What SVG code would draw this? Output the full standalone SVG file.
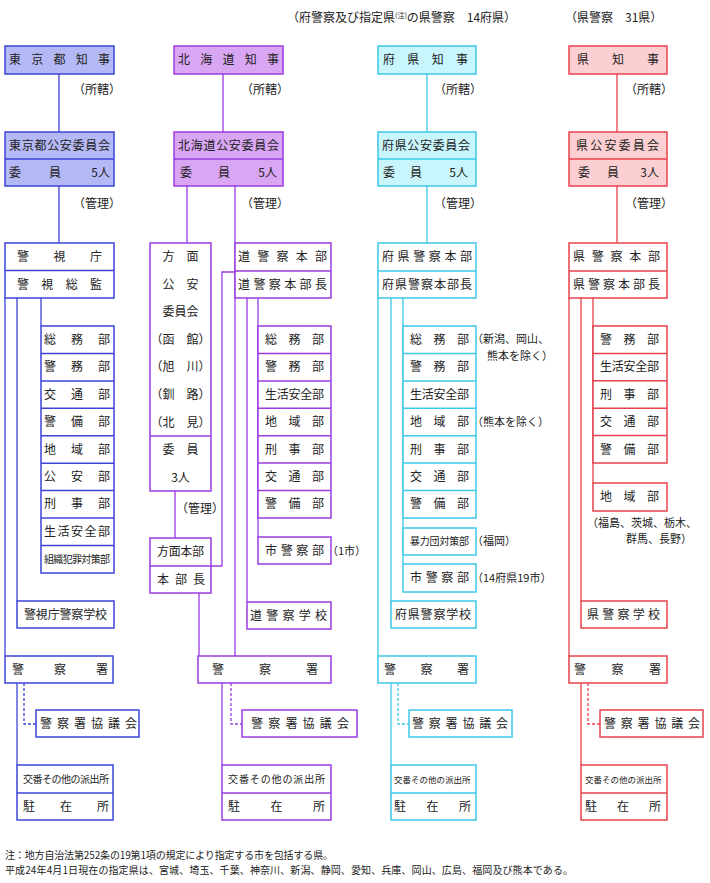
<svg xmlns="http://www.w3.org/2000/svg" width="710" height="883" viewBox="0 0 710 883">
<style>
text{font-family:"Noto Sans CJK JP","Noto Sans CJK SC",sans-serif;font-size:12px;fill:#222}
.s{font-size:10px}
.t{font-size:8.5px}
.a{font-size:11px}
.m{text-anchor:middle}
.e{text-anchor:end}
rect,.dv{stroke-width:1.5}
.k1{stroke:#3d45d8}.k2{stroke:#9a3be0}.k3{stroke:#3cc8e8}.k4{stroke:#e8404c}
.w{fill:#fff}
.f1{fill:#b4b8f4}.f2{fill:#d9a6f4}.f3{fill:#c8f6fc}.f4{fill:#fcd0d2}
.ln{fill:none;stroke-width:1.3}
.d{stroke-dasharray:3 2}
</style>
<rect width="710" height="883" fill="#fff"/>

<g id="titles">
<text x="287" y="22">（府警察及び指定県<tspan font-size="7" dy="-4">(注)</tspan><tspan dy="4">の県警察　14府県）</tspan></text>
<text x="565" y="22">（県警察　31県）</text>
</g>

<g id="connectors">
<g class="ln k1">
<line x1="59" y1="74" x2="59" y2="132"/>
<line x1="59" y1="186" x2="59" y2="243"/>
<line x1="5" y1="298" x2="5" y2="656"/>
<line x1="17" y1="298" x2="17" y2="601"/>
<line x1="41" y1="298" x2="41" y2="326"/>
<line x1="17" y1="683" x2="17" y2="765"/>
<polyline class="d" points="24,683 24,724 36,724"/>
</g>
<g class="ln k2">
<line x1="223" y1="74" x2="223" y2="132"/>
<line x1="187" y1="186" x2="187" y2="243"/>
<line x1="235" y1="186" x2="235" y2="656"/>
<line x1="175" y1="491" x2="175" y2="538"/>
<polyline points="211,566 222,566 222,272 235,272"/>
<line x1="199" y1="593" x2="199" y2="656"/>
<line x1="247" y1="298" x2="247" y2="602"/>
<line x1="258" y1="298" x2="258" y2="537"/>
<line x1="222" y1="683" x2="222" y2="765"/>
<polyline class="d" points="231,683 231,724 242,724"/>
</g>
<g class="ln k3">
<line x1="427" y1="74" x2="427" y2="132"/>
<line x1="427" y1="186" x2="427" y2="243"/>
<line x1="378" y1="298" x2="378" y2="656"/>
<line x1="391" y1="298" x2="391" y2="601"/>
<line x1="403" y1="298" x2="403" y2="564"/>
<line x1="391" y1="683" x2="391" y2="765"/>
<polyline class="d" points="398,683 398,724 409,724"/>
</g>
<g class="ln k4">
<line x1="617" y1="74" x2="617" y2="132"/>
<line x1="617" y1="186" x2="617" y2="243"/>
<line x1="569" y1="298" x2="569" y2="656"/>
<line x1="581" y1="298" x2="581" y2="601"/>
<line x1="593" y1="298" x2="593" y2="483"/>
<line x1="581" y1="683" x2="581" y2="765"/>
<polyline class="d" points="588,683 588,724 600,724"/>
</g>
<g id="connector-labels">
<text x="73" y="94">（所轄）</text><text x="73" y="208">（管理）</text>
<text x="241" y="94">（所轄）</text><text x="241" y="208">（管理）</text>
<text x="434" y="94">（所轄）</text><text x="434" y="208">（管理）</text>
<text x="625" y="94">（所轄）</text><text x="625" y="208">（管理）</text>
<text x="176" y="513">（管理）</text>
</g>
</g>

<g id="tokyo-governor">
<rect class="f1 k1" x="5" y="46" width="109" height="28"/>
<text x="9" y="64" textLength="101">東京都知事</text>
</g>
<g id="tokyo-psc">
<rect class="f1 k1" x="5" y="132" width="109" height="54"/>
<line class="dv k1" x1="5" y1="159" x2="114" y2="159"/>
<text x="9" y="150" textLength="101">東京都公安委員会</text>
<text x="9" y="177">委</text><text x="49" y="177">員</text><text class="e" x="110" y="177">5人</text>
</g>
<g id="mpd">
<rect class="w k1" x="5" y="243" width="109" height="55"/>
<line class="dv k1" x1="5" y1="270.5" x2="114" y2="270.5"/>
<text x="17" y="261" textLength="85">警視庁</text>
<text x="17" y="289" textLength="85">警視総監</text>
</g>
<g id="mpd-departments">
<rect class="w k1" x="41" y="326" width="73" height="247"/>
<g class="dv k1">
<line x1="41" y1="353.4" x2="114" y2="353.4"/><line x1="41" y1="380.9" x2="114" y2="380.9"/>
<line x1="41" y1="408.3" x2="114" y2="408.3"/><line x1="41" y1="435.8" x2="114" y2="435.8"/>
<line x1="41" y1="463.2" x2="114" y2="463.2"/><line x1="41" y1="490.6" x2="114" y2="490.6"/>
<line x1="41" y1="518.1" x2="114" y2="518.1"/><line x1="41" y1="545.5" x2="114" y2="545.5"/>
</g>
<text x="44" y="344" textLength="66">総務部</text>
<text x="44" y="371" textLength="66">警務部</text>
<text x="44" y="399" textLength="66">交通部</text>
<text x="44" y="426" textLength="66">警備部</text>
<text x="44" y="454" textLength="66">地域部</text>
<text x="44" y="481" textLength="66">公安部</text>
<text x="44" y="508" textLength="66">刑事部</text>
<text x="44" y="536" textLength="66">生活安全部</text>
<text class="s" x="44" y="563" textLength="66">組織犯罪対策部</text>
</g>
<g id="mpd-academy">
<rect class="w k1" x="17" y="601" width="97" height="27"/>
<text x="24" y="619" textLength="83">警視庁警察学校</text>
</g>
<g id="tokyo-station">
<rect class="w k1" x="5" y="656" width="108" height="27"/>
<text x="12" y="674" textLength="96">警察署</text>
</g>
<g id="tokyo-council">
<rect class="w k1" x="36" y="710" width="103" height="27"/>
<text x="40" y="728" textLength="97">警察署協議会</text>
</g>
<g id="tokyo-koban">
<rect class="w k1" x="17" y="765" width="96" height="55"/>
<line class="dv k1" x1="17" y1="793" x2="113" y2="793"/>
<text class="s" x="23" y="783" textLength="86">交番その他の派出所</text>
<text x="23" y="811" textLength="86">駐在所</text>
</g>

<g id="hokkaido-governor">
<rect class="f2 k2" x="174" y="46" width="109" height="28"/>
<text x="178" y="64" textLength="101">北海道知事</text>
</g>
<g id="hokkaido-psc">
<rect class="f2 k2" x="174" y="132" width="109" height="54"/>
<line class="dv k2" x1="174" y1="159" x2="283" y2="159"/>
<text x="178" y="150" textLength="101">北海道公安委員会</text>
<text x="180" y="177">委</text><text x="218" y="177">員</text><text class="e" x="277" y="177">5人</text>
</g>
<g id="area-psc">
<rect class="w k2" x="150" y="243" width="61" height="248"/>
<line class="dv k2" x1="150" y1="436" x2="211" y2="436"/>
<text class="m" x="180.5" y="261">方　面</text>
<text class="m" x="180.5" y="289">公　安</text>
<text class="m" x="180.5" y="316">委員会</text>
<text class="m" x="180.5" y="344">（函　館）</text>
<text class="m" x="180.5" y="371">（旭　川）</text>
<text class="m" x="180.5" y="399">（釧　路）</text>
<text class="m" x="180.5" y="427">（北　見）</text>
<text class="m" x="180.5" y="454">委　員</text>
<text class="m" x="180.5" y="482">3人</text>
</g>
<g id="area-hq">
<rect class="w k2" x="150" y="538" width="61" height="55"/>
<line class="dv k2" x1="150" y1="566" x2="211" y2="566"/>
<text x="157" y="556" textLength="47">方面本部</text>
<text x="157" y="584" textLength="48">本部長</text>
</g>
<g id="hokkaido-hq">
<rect class="w k2" x="235" y="243" width="96" height="55"/>
<line class="dv k2" x1="235" y1="271" x2="331" y2="271"/>
<text x="238" y="261" textLength="89">道警察本部</text>
<text x="238" y="289" textLength="89">道警察本部長</text>
</g>
<g id="hokkaido-departments">
<rect class="w k2" x="258" y="326" width="73" height="192"/>
<g class="dv k2">
<line x1="258" y1="353.4" x2="331" y2="353.4"/><line x1="258" y1="380.9" x2="331" y2="380.9"/>
<line x1="258" y1="408.3" x2="331" y2="408.3"/><line x1="258" y1="435.7" x2="331" y2="435.7"/>
<line x1="258" y1="463.1" x2="331" y2="463.1"/><line x1="258" y1="490.6" x2="331" y2="490.6"/>
</g>
<text x="265" y="344" textLength="59">総務部</text>
<text x="265" y="371" textLength="59">警務部</text>
<text x="265" y="399" textLength="59">生活安全部</text>
<text x="265" y="426" textLength="59">地域部</text>
<text x="265" y="454" textLength="59">刑事部</text>
<text x="265" y="481" textLength="59">交通部</text>
<text x="265" y="508" textLength="59">警備部</text>
</g>
<g id="hokkaido-city">
<rect class="w k2" x="258" y="537" width="73" height="27"/>
<text x="265" y="555" textLength="59">市警察部</text>
<text class="a" x="327" y="555">（1市）</text>
</g>
<g id="hokkaido-academy">
<rect class="w k2" x="247" y="602" width="84" height="27"/>
<text x="250" y="620" textLength="77">道警察学校</text>
</g>
<g id="hokkaido-station">
<rect class="w k2" x="198" y="656" width="133" height="27"/>
<text x="212" y="674" textLength="106">警察署</text>
</g>
<g id="hokkaido-council">
<rect class="w k2" x="242" y="710" width="115" height="27"/>
<text x="251" y="728" textLength="98">警察署協議会</text>
</g>
<g id="hokkaido-koban">
<rect class="w k2" x="222" y="765" width="109" height="55"/>
<line class="dv k2" x1="222" y1="793" x2="331" y2="793"/>
<text class="s" x="228" y="783" textLength="97">交番その他の派出所</text>
<text x="228" y="811" textLength="97">駐在所</text>
</g>

<g id="pref-governor">
<rect class="f3 k3" x="378" y="46" width="98" height="28"/>
<text x="383" y="64" textLength="85">府県知事</text>
</g>
<g id="pref-psc">
<rect class="f3 k3" x="378" y="132" width="98" height="54"/>
<line class="dv k3" x1="378" y1="159" x2="476" y2="159"/>
<text x="382" y="150" textLength="88">府県公安委員会</text>
<text x="383" y="177">委</text><text x="410" y="177">員</text><text class="e" x="468" y="177">5人</text>
</g>
<g id="pref-hq">
<rect class="w k3" x="378" y="243" width="98" height="55"/>
<line class="dv k3" x1="378" y1="271" x2="476" y2="271"/>
<text x="382" y="261" textLength="90">府県警察本部</text>
<text x="382" y="289" textLength="90">府県警察本部長</text>
</g>
<g id="pref-departments">
<rect class="w k3" x="403" y="326" width="73" height="192"/>
<g class="dv k3">
<line x1="403" y1="353.4" x2="476" y2="353.4"/><line x1="403" y1="380.9" x2="476" y2="380.9"/>
<line x1="403" y1="408.3" x2="476" y2="408.3"/><line x1="403" y1="435.7" x2="476" y2="435.7"/>
<line x1="403" y1="463.1" x2="476" y2="463.1"/><line x1="403" y1="490.6" x2="476" y2="490.6"/>
</g>
<text x="410" y="344" textLength="59">総務部</text>
<text x="410" y="371" textLength="59">警務部</text>
<text x="410" y="399" textLength="59">生活安全部</text>
<text x="410" y="426" textLength="59">地域部</text>
<text x="410" y="454" textLength="59">刑事部</text>
<text x="410" y="481" textLength="59">交通部</text>
<text x="410" y="508" textLength="59">警備部</text>
<text class="a" x="472" y="343">（新潟、岡山、</text>
<text class="a" x="487" y="360">熊本を除く）</text>
<text class="a" x="472" y="426">（熊本を除く）</text>
</g>
<g id="pref-boryokudan">
<rect class="w k3" x="403" y="528" width="73" height="27"/>
<text class="s" x="410" y="545" textLength="59">暴力団対策部</text>
<text class="a" x="472" y="545">（福岡）</text>
</g>
<g id="pref-city">
<rect class="w k3" x="403" y="564" width="73" height="28"/>
<text x="410" y="582" textLength="59">市警察部</text>
<text class="a" x="472" y="582">（14府県19市）</text>
</g>
<g id="pref-academy">
<rect class="w k3" x="391" y="601" width="85" height="27"/>
<text x="395" y="619" textLength="76">府県警察学校</text>
</g>
<g id="pref-station">
<rect class="w k3" x="378" y="656" width="98" height="27"/>
<text x="384" y="674" textLength="85">警察署</text>
</g>
<g id="pref-council">
<rect class="w k3" x="409" y="710" width="103" height="27"/>
<text x="412" y="728" textLength="96">警察署協議会</text>
</g>
<g id="pref-koban">
<rect class="w k3" x="391" y="765" width="85" height="55"/>
<line class="dv k3" x1="391" y1="793" x2="476" y2="793"/>
<text class="t" x="394" y="783">交番その他の派出所</text>
<text x="394" y="811" textLength="77">駐在所</text>
</g>

<g id="ken-governor">
<rect class="f4 k4" x="569" y="46" width="98" height="28"/>
<text x="577" y="64" textLength="82">県知事</text>
</g>
<g id="ken-psc">
<rect class="f4 k4" x="569" y="132" width="98" height="54"/>
<line class="dv k4" x1="569" y1="159" x2="667" y2="159"/>
<text x="576" y="150" textLength="83">県公安委員会</text>
<text x="578" y="177">委</text><text x="607" y="177">員</text><text class="e" x="659" y="177">3人</text>
</g>
<g id="ken-hq">
<rect class="w k4" x="569" y="243" width="98" height="55"/>
<line class="dv k4" x1="569" y1="271" x2="667" y2="271"/>
<text x="573" y="261" textLength="87">県警察本部</text>
<text x="573" y="289" textLength="87">県警察本部長</text>
</g>
<g id="ken-departments">
<rect class="w k4" x="593" y="326" width="74" height="137"/>
<g class="dv k4">
<line x1="593" y1="353.4" x2="667" y2="353.4"/><line x1="593" y1="380.8" x2="667" y2="380.8"/>
<line x1="593" y1="408.2" x2="667" y2="408.2"/><line x1="593" y1="435.6" x2="667" y2="435.6"/>
</g>
<text x="600" y="344" textLength="59">警務部</text>
<text x="600" y="371" textLength="59">生活安全部</text>
<text x="600" y="399" textLength="59">刑事部</text>
<text x="600" y="426" textLength="59">交通部</text>
<text x="600" y="454" textLength="59">警備部</text>
</g>
<g id="ken-chiiki">
<rect class="w k4" x="593" y="483" width="74" height="28"/>
<text x="600" y="501" textLength="59">地域部</text>
<text class="a" x="587" y="527">（福島、茨城、栃木、</text>
<text class="a" x="626" y="543">群馬、長野）</text>
</g>
<g id="ken-academy">
<rect class="w k4" x="581" y="601" width="86" height="27"/>
<text x="587" y="619" textLength="73">県警察学校</text>
</g>
<g id="ken-station">
<rect class="w k4" x="569" y="656" width="98" height="27"/>
<text x="574" y="674" textLength="87">警察署</text>
</g>
<g id="ken-council">
<rect class="w k4" x="600" y="710" width="103" height="27"/>
<text x="604" y="728" textLength="96">警察署協議会</text>
</g>
<g id="ken-koban">
<rect class="w k4" x="581" y="765" width="86" height="55"/>
<line class="dv k4" x1="581" y1="793" x2="667" y2="793"/>
<text class="t" x="585" y="783">交番その他の派出所</text>
<text x="585" y="811" textLength="76">駐在所</text>
</g>

<g id="footnote">
<text class="s" x="5" y="859" textLength="328">注：地方自治法第252条の19第1項の規定により指定する市を包括する県。</text>
<text class="s" x="5" y="874" textLength="568">平成24年4月1日現在の指定県は、宮城、埼玉、千葉、神奈川、新潟、静岡、愛知、兵庫、岡山、広島、福岡及び熊本である。</text>
</g>
</svg>
